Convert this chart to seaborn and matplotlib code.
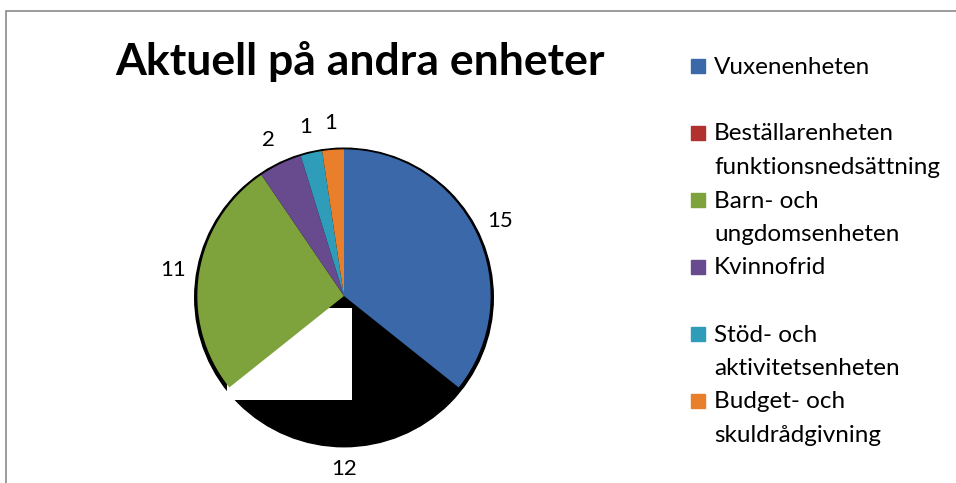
import numpy as np
import matplotlib.pyplot as plt
import matplotlib.patches as mpatches
import seaborn as sns

# data
units = [
    "Vuxenenheten",
    "Beställarenheten\nfunktionsnedsättning",
    "Barn- och\nungdomsenheten",
    "Kvinnofrid",
    "Stöd- och\naktivitetsenheten",
    "Budget- och\nskuldrådgivning",
]
counts = [15, 12, 11, 2, 1, 1]
legend_colors = ["#3A68A8", "#B0312E", "#7FA33C", "#684A8E", "#2F9DB9", "#E97F2A"]
# the second slice shows up black in the original rendering
slice_colors = ["#3A68A8", "#000000", "#7FA33C", "#684A8E", "#2F9DB9", "#E97F2A"]

sns.set_theme(style="white")
plt.rcParams['font.family'] = ['Lato', 'DejaVu Sans']

fig = plt.figure(figsize=(9.56, 4.83), dpi=100)
fig.patch.set_facecolor("white")

# pie axes, centre around (344, 296) px, radius ~141 px
r_px = 141
span = 1.3
w_px = 2 * span * r_px
ax = fig.add_axes([(344 - w_px / 2) / 956, (483 - 296 - w_px / 2) / 483,
                   w_px / 956, w_px / 483])
ax.set_xlim(-span, span)
ax.set_ylim(-span, span)
ax.set_aspect("equal")
ax.axis("off")

# dark rim behind the pie
ax.add_patch(mpatches.Circle((0, -0.01), 1.018, color="black", zorder=0))

wedges, texts = ax.pie(
    counts,
    colors=slice_colors,
    startangle=90,
    counterclock=False,
    labels=[str(c) for c in counts],
    labeldistance=1.18,
    wedgeprops=dict(linewidth=0),
    textprops=dict(fontsize=16, color="black"),
)
for t in texts:
    t.set_ha("center")
    t.set_va("center")
for i, w in enumerate(wedges):
    w.set_zorder(3 if i != 1 else 1)

# white rendering gap inside the dark slice
ax.add_patch(mpatches.Rectangle((-0.8, -0.71), 0.857, 0.63,
                                color="white", zorder=2, lw=0))

# title
fig.text(360 / 956, 1 - 62 / 483, "Aktuell på andra enheter",
         ha="center", va="center", fontsize=32, fontweight="bold",
         color="black")

# legend drawn by hand: handle aligned with first line of each label
line_h = 33.5
y_px = 67
for name, col in zip(units, legend_colors):
    fig.patches.append(mpatches.Rectangle(
        (691 / 956, 1 - (y_px + 6) / 483), 14 / 956, 14 / 483,
        transform=fig.transFigure, color=col, figure=fig))
    for k, line in enumerate(name.split("\n")):
        fig.text(714 / 956, 1 - (y_px + k * line_h) / 483, line,
                 ha="left", va="center", fontsize=17.5, color="black")
    y_px += 2 * line_h

# chart border (top and left visible)
fig.patches.append(mpatches.Rectangle(
    (6 / 956, -0.1), 1.2, (483 - 11) / 483 + 0.1,
    transform=fig.transFigure, fill=False, edgecolor="#8a8a8a", lw=1.2,
    figure=fig))

fig.savefig("out.png", dpi=100)
